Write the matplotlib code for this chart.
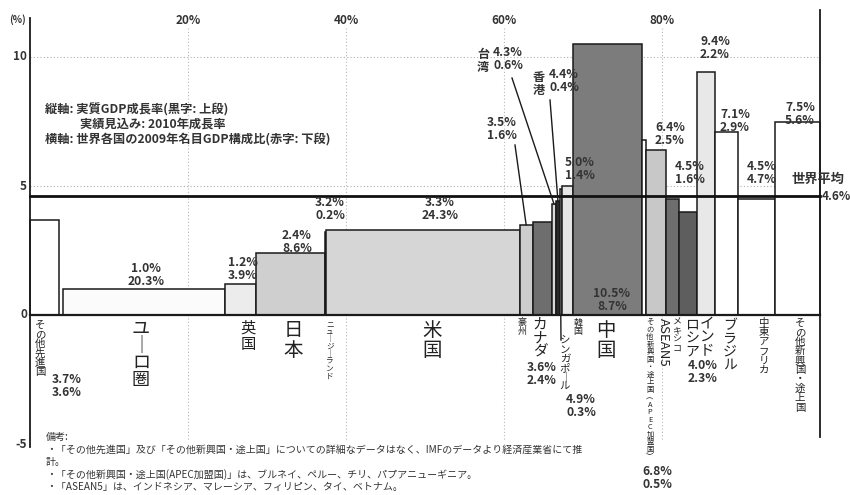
import matplotlib
matplotlib.use("Agg")
import matplotlib.pyplot as plt
import numpy as np

plt.rcParams['font.family'] = ['Noto Sans CJK JP', 'DejaVu Sans']

# ----------------------------------------------------------------------
# --- Data (growth: real GDP growth 2010, share: 2009 nominal GDP share) ---
names = ["その他先進国", "ユーロ圏", "英国", "日本", "ニュージーランド", "米国",
         "豪州", "カナダ", "台湾", "香港", "シンガポール", "韓国", "中国",
         "その他新興国・途上国(APEC加盟国)", "ASEAN5", "メキシコ", "ロシア",
         "インド", "ブラジル", "中東アフリカ", "その他新興国・途上国"]
growth = [3.7, 1.0, 1.2, 2.4, 3.2, 3.3, 3.5, 3.6, 4.3, 4.4, 4.9, 5.0, 10.5,
          6.8, 6.4, 4.5, 4.0, 9.4, 7.1, 4.5, 7.5]
share = [3.6, 20.3, 3.9, 8.6, 0.2, 24.3, 1.6, 2.4, 0.6, 0.4, 0.3, 1.4, 8.7,
         0.5, 2.5, 1.6, 2.3, 2.2, 2.9, 4.7, 5.6]
world_avg = 4.6
x_ticks = [20, 40, 60, 80]
y_ticks = [10, 5, 0, -5]

# --- Styles ---
fills = ["#ffffff", "#fbfbfb", "#ececec", "#cfcfcf", "#dcdcdc", "#d6d6d6",
         "#cdcdcd", "#6e6e6e", "#d9d9d9", "#2a2a2a", "#ffffff", "#e6e6e6",
         "#7c7c7c", "#ffffff", "#c8c8c8", "#6e6e6e", "#5e5e5e", "#e8e8e8",
         "#ffffff", "#ffffff", "#ffffff"]
gap_after_first = 0.6
TXT = "#333333"

# pixel helpers (layout only)
PX0, PXS = 30, 7.9
PY0, PYS = 315, 25.8
def X(px):
    return (px - PX0) / PXS
def Y(py):
    return (PY0 - py) / PYS

fig = plt.figure(figsize=(8.5, 4.95), dpi=100)
ax = fig.add_axes([0, 0, 1, 1])
ax.set_xlim(X(0), X(850))
ax.set_ylim(Y(495), Y(0))
ax.axis("off")

# ----------------------------------------------------------------------
# --- Bars: widths from shares, scaled so the chart spans 0-100% ---
widths = np.array(share, dtype=float)
gaps = np.zeros_like(widths)
gaps[1] = gap_after_first
scale = 100.0 / (widths.sum() + gaps.sum())
lefts = (np.cumsum(widths + gaps) - widths) * scale
widths = widths * scale
centers = lefts + widths / 2

ax.bar(lefts, growth, width=widths, align="edge", color=fills,
       edgecolor="#1a1a1a", linewidth=1.1, zorder=3)

# grid
for v in [5, 10]:
    ax.plot([0, 100], [v, v], color="#b0b0b0", lw=0.8, ls=(0, (1, 2)), zorder=1)
for v in x_ticks:
    ax.plot([v, v], [Y(28), Y(440)], color="#b8b8b8", lw=0.8, ls=(0, (1, 2)), zorder=1)

# axes lines
ax.plot([0, 0], [Y(18), Y(447)], color="#1a1a1a", lw=1.3, zorder=5)
ax.plot([0, 100], [0, 0], color="#1a1a1a", lw=1.6, zorder=5)
ax.plot([100, 100], [Y(10), Y(437)], color="#1a1a1a", lw=1.3, zorder=5)
ax.plot([0, 100], [world_avg, world_avg], color="#111111", lw=2.0, zorder=6)

for v in x_ticks:
    ax.text(v, Y(20), f"{v}%", ha="center", va="center", fontsize=8.5,
            fontweight="bold", color=TXT)
for v in y_ticks:
    ax.text(X(27), v, str(v), ha="right", va="center", fontsize=8.5,
            fontweight="bold", color=TXT)
ax.text(X(17), Y(20), "(%)", ha="center", va="center", fontsize=7,
        fontweight="bold", color=TXT)

ax.text(X(818), Y(179), "世界平均", ha="center", va="center", fontsize=9.5,
        fontweight="bold", color=TXT, zorder=7)
ax.text(X(836), Y(197), f"{world_avg}%", ha="center", va="center", fontsize=8.5,
        fontweight="bold", color=TXT, zorder=7)

# legend-like note
note_fs = 8.8
ax.text(X(45), Y(110), "縦軸: 実質GDP成長率(黒字: 上段)", ha="left", va="center",
        fontsize=note_fs, fontweight="bold", color=TXT)
ax.text(X(80), Y(124), "実績見込み: 2010年成長率", ha="left", va="center",
        fontsize=note_fs, fontweight="bold", color=TXT)
ax.text(X(45), Y(139), "横軸: 世界各国の2009年名目GDP構成比(赤字: 下段)",
        ha="left", va="center", fontsize=note_fs, fontweight="bold", color=TXT)

# ----------------------------------------------------------------------
# --- Value labels (growth / share) ---
def vlabel(i, px, py, ha="center"):
    ax.text(X(px), Y(py), f"{growth[i]:.1f}%\n{share[i]:.1f}%", ha=ha, va="top",
            fontsize=8.7, fontweight="bold", color=TXT, linespacing=1.0, zorder=7)

vlabel(0, 67, 373)
vlabel(1, 146, 262)
vlabel(2, 243, 256)
vlabel(3, 297, 229)
vlabel(4, 330, 196)
vlabel(5, 440, 196)
vlabel(6, 502, 116)
vlabel(7, 542, 361)
vlabel(8, 508, 46)
vlabel(9, 564, 68)
vlabel(10, 581, 393)
vlabel(11, 580, 156)
vlabel(12, 612, 287)
vlabel(13, 657, 465)
vlabel(14, 670, 121)
vlabel(15, 690, 160)
vlabel(16, 703, 359)
vlabel(17, 715, 35)
vlabel(18, 735, 108)
vlabel(19, 762, 160)
vlabel(20, 800, 101)

ax.text(X(483), Y(61), "台\n湾", ha="center", va="center", fontsize=8.7,
        fontweight="bold", color=TXT, linespacing=0.95)
ax.text(X(539), Y(84), "香\n港", ha="center", va="center", fontsize=8.7,
        fontweight="bold", color=TXT, linespacing=0.95)

# leader lines to small bars
def leader(i, px, py):
    ax.plot([X(px), centers[i]], [Y(py), growth[i]], color="#1a1a1a", lw=1.0, zorder=6)

leader(6, 515, 145)
leader(8, 512, 78)
leader(9, 550, 100)
ax.plot([centers[10], X(561)], [0, Y(340)], color="#1a1a1a", lw=1.0, zorder=6)

# ----------------------------------------------------------------------
# --- Category labels (vertical writing) ---
def vert(s):
    s = s.replace("ー", "｜").replace("(", "︵").replace(")", "︶")
    return "\n".join(s)

cat_layout = [
    (0, 40, 320, 7.5),
    (1, 141, 320, 13),
    (2, 248, 320, 11),
    (3, 293, 320, 14),
    (4, 330, 320, 5.5),
    (5, 432, 320, 14),
    (6, 522, 318, 6.5),
    (7, 540, 318, 10.5),
    (10, 565, 335, 7.5),
    (11, 578, 319, 6.5),
    (12, 606, 320, 14),
    (13, 650, 318, 5.3),
    (15, 677, 318, 6.5),
    (16, 692, 318, 10),
    (17, 707, 317, 10.5),
    (18, 730, 318, 10),
    (19, 764, 318, 7.5),
    (20, 800, 318, 7.5),
]
for i, px, py, fs in cat_layout:
    ax.text(X(px), Y(py), vert(names[i]), ha="center", va="top", fontsize=fs,
            color="#222222", linespacing=0.92, zorder=7)
ax.text(X(663), Y(318), names[14], ha="center", va="top", fontsize=9.5,
        rotation=-90, color="#222222", zorder=7)

# ----------------------------------------------------------------------
# --- Notes ---
notes = [
    "備考:",
    "・「その他先進国」及び「その他新興国・途上国」についての詳細なデータはなく、IMFのデータより経済産業省にて推",
    "計。",
    "・「その他新興国・途上国(APEC加盟国)」は、ブルネイ、ペルー、チリ、パプアニューギニア。",
    "・「ASEAN5」は、インドネシア、マレーシア、フィリピン、タイ、ベトナム。",
]
for k, line in enumerate(notes):
    ax.text(X(46), Y(437 + 12.4 * k), line, ha="left", va="center", fontsize=7.2,
            color="#333333")

fig.savefig("out.png", dpi=100)
